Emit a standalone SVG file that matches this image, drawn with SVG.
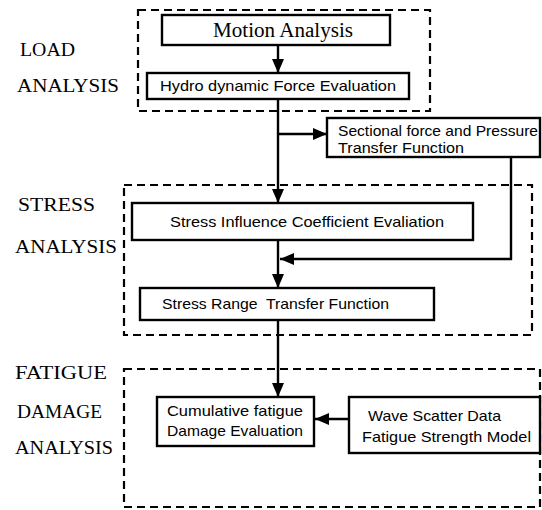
<svg xmlns="http://www.w3.org/2000/svg" width="542" height="510" viewBox="0 0 542 510">
<style>
.bg{fill:#fff}
.box{fill:#fff;stroke:#000;stroke-width:2.4}
.grp{fill:none;stroke:#000;stroke-width:2.2;stroke-dasharray:8 5}
.con{fill:none;stroke:#000;stroke-width:2.4}
.lbl{font-family:"Liberation Serif","Times New Roman",serif;font-size:18px;fill:#000}
.ser{font-family:"Liberation Serif","Times New Roman",serif;font-size:20px;fill:#000}
.txt{font-family:"Liberation Sans",Arial,sans-serif;font-size:14.5px;fill:#000}
</style>
<defs>
<marker id="ah" markerUnits="userSpaceOnUse" markerWidth="14" markerHeight="12" refX="14" refY="6" orient="auto">
<path d="M0,0 L14,6 L0,12 z" fill="#000"/>
</marker>
</defs>
<rect class="bg" x="0" y="0" width="542" height="510"/>

<g id="labels">
<text class="lbl" x="20" y="56" textLength="55" lengthAdjust="spacingAndGlyphs">LOAD</text>
<text class="lbl" x="17" y="92" textLength="102" lengthAdjust="spacingAndGlyphs">ANALYSIS</text>
<text class="lbl" x="18" y="211" textLength="77" lengthAdjust="spacingAndGlyphs">STRESS</text>
<text class="lbl" x="15" y="253" textLength="102" lengthAdjust="spacingAndGlyphs">ANALYSIS</text>
<text class="lbl" x="15" y="379" textLength="92" lengthAdjust="spacingAndGlyphs">FATIGUE</text>
<text class="lbl" x="17" y="418" textLength="85" lengthAdjust="spacingAndGlyphs">DAMAGE</text>
<text class="lbl" x="15" y="454" textLength="98" lengthAdjust="spacingAndGlyphs">ANALYSIS</text>
</g>

<g id="groups">
<rect id="load-group" class="grp" x="138" y="10" width="292" height="101"/>
<rect id="stress-group" class="grp" x="124" y="185" width="408" height="150"/>
<rect id="fatigue-group" class="grp" x="124" y="369" width="416" height="138"/>
</g>

<g id="connectors">
<line class="con" x1="278" y1="45" x2="278" y2="73" marker-end="url(#ah)"/>
<line class="con" x1="278" y1="99" x2="278" y2="203" marker-end="url(#ah)"/>
<line class="con" x1="278" y1="134" x2="327" y2="134" marker-end="url(#ah)"/>
<path class="con" d="M511,157 V259 H280" marker-end="url(#ah)"/>
<line class="con" x1="278" y1="240" x2="278" y2="288" marker-end="url(#ah)"/>
<line class="con" x1="278" y1="320" x2="278" y2="397" marker-end="url(#ah)"/>
<line class="con" x1="349" y1="419" x2="315" y2="419" marker-end="url(#ah)"/>
</g>

<g id="motion-analysis">
<rect class="box" x="162" y="15" width="228" height="30"/>
<text class="ser" x="213" y="37" textLength="140" lengthAdjust="spacingAndGlyphs">Motion Analysis</text>
</g>
<g id="hydro-force">
<rect class="box" x="147" y="73" width="262" height="26"/>
<text class="txt" x="160" y="91" textLength="236" lengthAdjust="spacingAndGlyphs">Hydro dynamic Force Evaluation</text>
</g>
<g id="sectional-force">
<rect class="box" x="327" y="118" width="213" height="39"/>
<text class="txt" x="338" y="136" textLength="200" lengthAdjust="spacingAndGlyphs">Sectional force and Pressure</text>
<text class="txt" x="338" y="153" textLength="126" lengthAdjust="spacingAndGlyphs">Transfer Function</text>
</g>
<g id="stress-influence">
<rect class="box" x="132" y="203" width="341" height="37"/>
<text class="txt" x="170" y="227" textLength="274" lengthAdjust="spacingAndGlyphs">Stress Influence Coefficient Evaliation</text>
</g>
<g id="stress-range">
<rect class="box" x="140" y="288" width="294" height="32"/>
<text class="txt" x="162" y="309" textLength="227" lengthAdjust="spacingAndGlyphs" xml:space="preserve">Stress Range  Transfer Function</text>
</g>
<g id="cumulative-damage">
<rect class="box" x="157" y="397" width="157" height="49"/>
<text class="txt" x="167" y="416" textLength="136" lengthAdjust="spacingAndGlyphs">Cumulative fatigue</text>
<text class="txt" x="167" y="436" textLength="136" lengthAdjust="spacingAndGlyphs">Damage Evaluation</text>
</g>
<g id="wave-scatter">
<rect class="box" x="349" y="397" width="191" height="56"/>
<text class="txt" x="368" y="421" textLength="133" lengthAdjust="spacingAndGlyphs">Wave Scatter Data</text>
<text class="txt" x="362" y="442" textLength="169" lengthAdjust="spacingAndGlyphs">Fatigue Strength Model</text>
</g>
</svg>
